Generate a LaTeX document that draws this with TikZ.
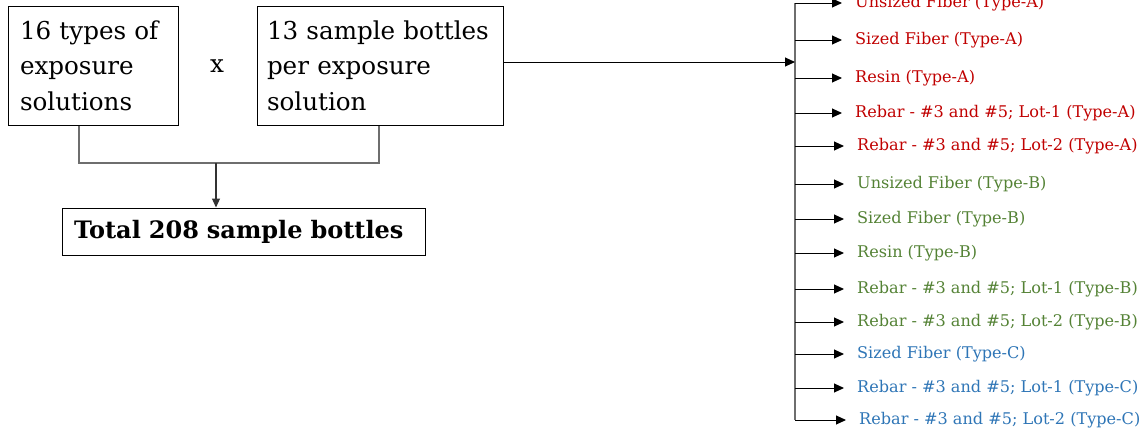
\documentclass[tikz,border=0pt]{standalone}
\usepackage{fontspec}
\setmainfont{DejaVu Serif}
\usetikzlibrary{arrows.meta,calc}
\definecolor{cA}{RGB}{192,0,0}
\definecolor{cB}{RGB}{84,130,53}
\definecolor{cC}{RGB}{46,117,182}
\definecolor{lg}{RGB}{110,110,110}
\begin{document}
\begin{tikzpicture}[x=1pt,y=-1pt,
  box/.style={draw,line width=1pt,align=left,inner ysep=0pt,font=\fontsize{24.6}{35.5}\selectfont},
  item/.style={anchor=west,inner sep=0pt,font=\fontsize{16.1}{19}\selectfont},
  branch/.style={-{Triangle[length=10pt,width=9pt]},line width=1pt},
  conn/.style={line width=1.2pt,draw=lg}]
\useasboundingbox (0,0) rectangle (1144,431);
\node[box,text width=146pt,inner xsep=12pt,minimum height=119pt] (b1) at (93,65.5) {16 types of\\exposure\\solutions};
\node[box,text width=226pt,inner xsep=10pt,minimum height=119pt] (b2) at (380,65.5) {13 sample bottles\\per exposure\\solution};
\node[font=\fontsize{24.6}{30}\selectfont] (x) at (217,66) {x};
\node[box,text width=339pt,inner xsep=12pt,minimum height=47pt,font=\fontsize{24}{28}\selectfont\bfseries] (b3) at (243.5,231.5) {Total 208 sample bottles};
\coordinate (j) at (216,163);
\draw[conn] ([xshift=-14pt]b1.south) |- (j) -| ([xshift=-1pt]b2.south);
\draw[conn,-{Triangle[length=9pt,width=8pt]},draw=black!80] (j) -- (j |- b3.north);
\coordinate (tt) at (795,3);
\coordinate (tb) at (795,420);
\coordinate (m) at (795,62);
\draw[conn] (tt) -- (tb);
\draw[branch] (b2.east |- m) -- (m);
\foreach \y/\x/\c/\t [count=\n] in {
  3/855/cA/Unsized Fiber (Type-A),
  40/855/cA/Sized Fiber (Type-A),
  78/855/cA/Resin (Type-A),
  113/855/cA/Rebar - \#3 and \#5; Lot-1 (Type-A),
  146/857/cA/Rebar - \#3 and \#5; Lot-2 (Type-A),
  184/857/cB/Unsized Fiber (Type-B),
  219/857/cB/Sized Fiber (Type-B),
  253/857/cB/Resin (Type-B),
  289/857/cB/Rebar - \#3 and \#5; Lot-1 (Type-B),
  322/857/cB/Rebar - \#3 and \#5; Lot-2 (Type-B),
  354/857/cC/Sized Fiber (Type-C),
  388/857/cC/Rebar - \#3 and \#5; Lot-1 (Type-C),
  420/859/cC/Rebar - \#3 and \#5; Lot-2 (Type-C)}{
  \node[item,text=\c] (i\n) at (\x,\y) {\t};
  \draw[branch] (tt |- i\n.west) -- ([xshift=-13pt]i\n.west);
}
\end{tikzpicture}
\end{document}
